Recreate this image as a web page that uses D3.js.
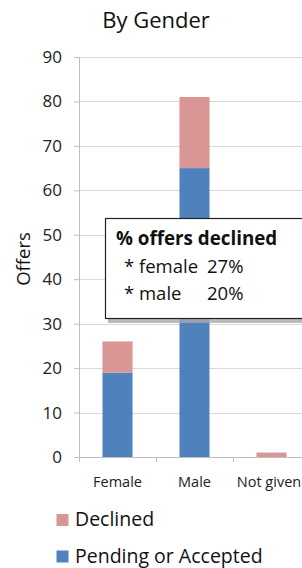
<!DOCTYPE html>
<html><head><meta charset="utf-8">
<script src="https://cdn.jsdelivr.net/npm/d3@7"></script>
<style>body{margin:0;background:#fff}svg{display:block}</style>
</head><body>
<script>
const categories = ["Female", "Male", "Not given"];
const pending = [19, 65, 0];
const declined = [7, 16, 1];
const yTicks = [0, 10, 20, 30, 40, 50, 60, 70, 80, 90];
const seriesNames = ["Declined", "Pending or Accepted"];
const colors = {"Declined": "#D99694", "Pending or Accepted": "#4F81BD"};
const noteTitle = "% offers declined";
const noteLabels = ["* female", "* male"];
const noteValues = ["27%", "20%"];

const W = 302, H = 568;
const font = "'Open Sans', sans-serif";
const svg = d3.select("body").append("svg").attr("width", W).attr("height", H);

const x0 = 79, x1 = 310, yTop = 57, yBot = 457;
const x = d3.scaleBand().domain(categories).range([x0, x1]).paddingInner(0.61).paddingOuter(0.305);
const y = d3.scaleLinear().domain([0, 90]).range([yBot, yTop]);

// gridlines
svg.append("g").selectAll("line").data(yTicks.filter(d => d > 0)).join("line")
  .attr("x1", x0).attr("x2", W).attr("y1", d => Math.round(y(d)) + 0.5).attr("y2", d => Math.round(y(d)) + 0.5)
  .attr("stroke", "#d9d9d9").attr("stroke-width", 1);

// y axis
const ya = svg.append("g").attr("transform", `translate(${x0},0)`)
  .call(d3.axisLeft(y).tickValues(yTicks).tickSize(5).tickPadding(12));
ya.select(".domain").attr("stroke", "#bfbfbf");
ya.selectAll(".tick line").attr("stroke", "#bfbfbf");
ya.selectAll("text").attr("font-family", font).attr("font-size", 17).attr("fill", "#222");

// bars
const stack = categories.map((c, i) => ({c, p: pending[i], d: declined[i]}));
svg.append("g").selectAll("rect.p").data(stack).join("rect")
  .attr("x", d => x(d.c)).attr("width", x.bandwidth())
  .attr("y", d => y(d.p)).attr("height", d => y(0) - y(d.p))
  .attr("fill", colors["Pending or Accepted"]);
svg.append("g").selectAll("rect.d").data(stack).join("rect")
  .attr("x", d => x(d.c)).attr("width", x.bandwidth())
  .attr("y", d => y(d.p + d.d)).attr("height", d => y(d.p) - y(d.p + d.d))
  .attr("fill", colors["Declined"]);

// x axis
const step = x.step();
svg.append("line").attr("x1", x0).attr("x2", W).attr("y1", yBot + 0.5).attr("y2", yBot + 0.5)
  .attr("stroke", "#bfbfbf");
const tickXs = d3.range(categories.length + 1).map(i => x0 + i * step);
svg.append("g").selectAll("line").data(tickXs).join("line")
  .attr("x1", d => Math.round(d) + 0.5).attr("x2", d => Math.round(d) + 0.5)
  .attr("y1", yBot).attr("y2", yBot + 5).attr("stroke", "#bfbfbf");
svg.append("g").selectAll("text").data(categories).join("text")
  .attr("x", d => Math.min(x(d) + x.bandwidth() / 2, W - 33)).attr("y", 486.5)
  .attr("text-anchor", "middle").attr("font-family", font).attr("font-size", 14.5).attr("fill", "#222")
  .text(d => d);

// title
svg.append("text").attr("x", 156).attr("y", 27.5).attr("text-anchor", "middle")
  .attr("font-family", font).attr("font-size", 22).attr("fill", "#111").text("By Gender");

// y label
svg.append("text").attr("transform", "translate(30,259) rotate(-90)").attr("text-anchor", "middle")
  .attr("font-family", font).attr("font-size", 18.5).attr("fill", "#111").text("Offers");

// annotation box
svg.append("rect").attr("x", 108).attr("y", 222).attr("width", 200).attr("height", 101)
  .attr("fill", "#aaa").attr("opacity", 0.8);
svg.append("rect").attr("x", 105.5).attr("y", 218.5).attr("width", 200).attr("height", 100)
  .attr("fill", "#fff").attr("stroke", "#222").attr("stroke-width", 1.2);
svg.append("text").attr("x", 116).attr("y", 245)
  .attr("font-family", font).attr("font-size", 18.8).attr("font-weight", "bold").attr("fill", "#111")
  .text(noteTitle);
const nl = svg.append("g").selectAll("g").data(noteLabels).join("g")
  .attr("transform", (d, i) => `translate(0,${272.7 + i * 27.5})`);
nl.append("text").attr("x", 124).attr("font-family", font).attr("font-size", 18.5).attr("fill", "#111").text(d => d);
nl.append("text").attr("x", 207).attr("font-family", font).attr("font-size", 18.5).attr("fill", "#111")
  .text((d, i) => noteValues[i]);

// legend
const lg = svg.append("g").selectAll("g").data(seriesNames).join("g")
  .attr("transform", (d, i) => `translate(56.5,${514 + i * 36.5})`);
lg.append("rect").attr("width", 12).attr("height", 12).attr("fill", d => colors[d]);
lg.append("text").attr("x", 18.5).attr("y", 12).attr("font-family", font).attr("font-size", 19.5)
  .attr("fill", "#111").text(d => d);
</script>
</body></html>
